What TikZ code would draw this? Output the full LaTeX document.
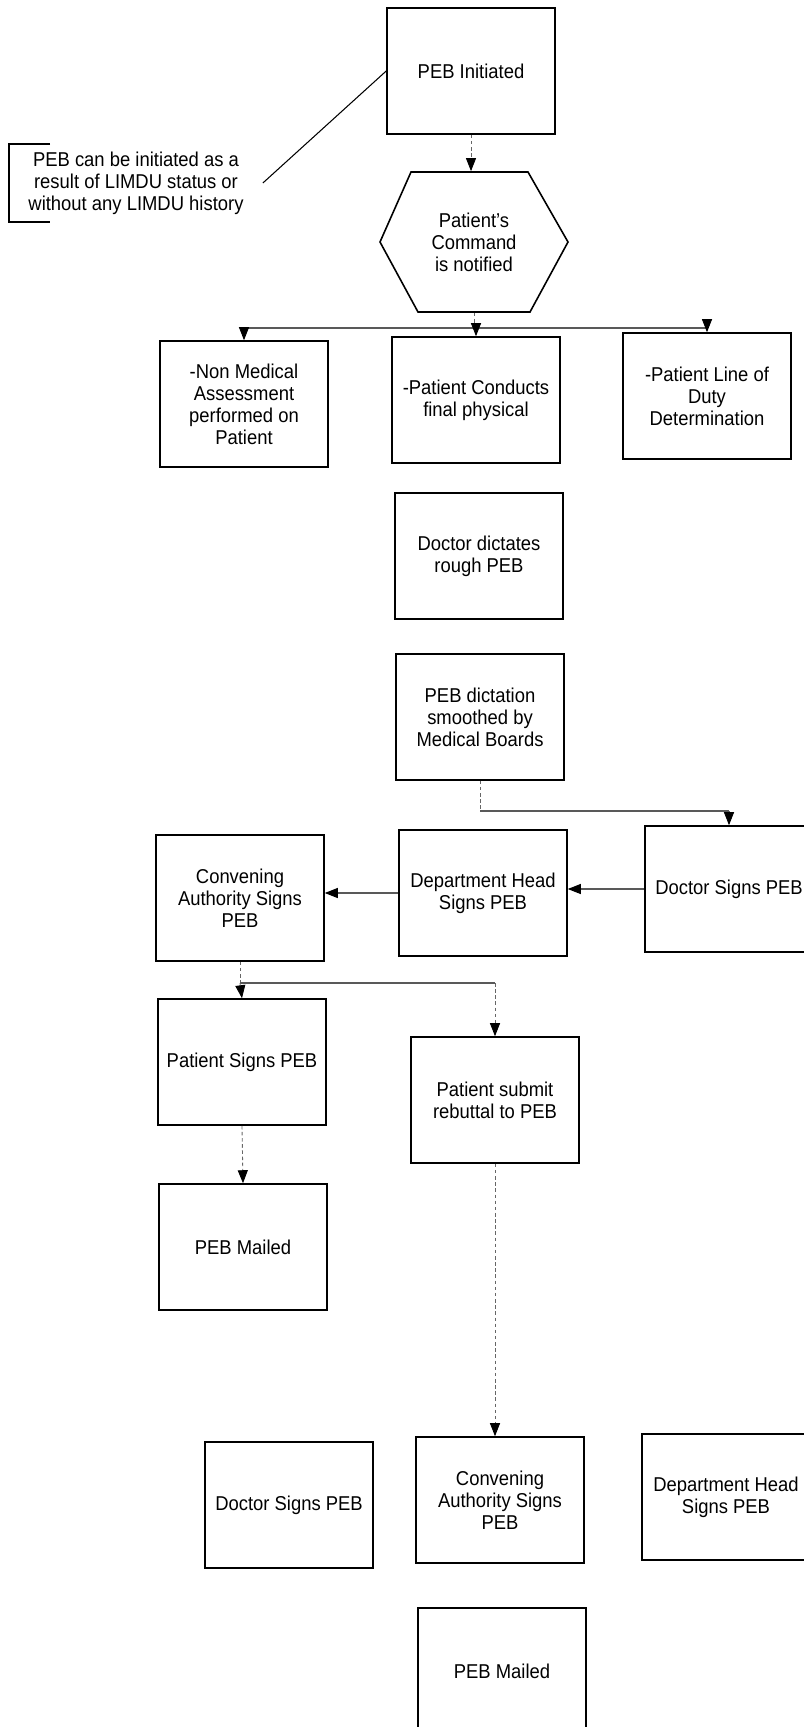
\documentclass[tikz,border=0pt]{standalone}
\usepackage{fontspec}
\setmainfont[FakeStretch=0.92]{Liberation Sans}
\usetikzlibrary{arrows.meta}
\tikzset{
    stepbox/.style={draw, line width=0.9pt, minimum width=3.36cm, minimum height=2.52cm,
        align=center, inner sep=2pt, font=\fontsize{11.4}{12.5}\selectfont},
    hexbox/.style={minimum width=3.76cm, minimum height=2.82cm, inner sep=0pt,
        align=center, font=\fontsize{11.4}{12.5}\selectfont},
    notebox/.style={align=center, inner xsep=0.38cm, minimum height=1.54cm,
        font=\fontsize{11.4}{12.5}\selectfont},
    vflow/.style={draw=black!60, line width=0.5pt, dash pattern=on 2pt off 1.5pt},
    hflow/.style={draw=black!65, line width=0.6pt},
    tip/.style={-{Triangle[length=0.26cm, width=0.2cm, color=black]}},
}
\begin{document}
\begin{tikzpicture}[x=0.02cm, y=-0.02cm]
    \useasboundingbox (0,0) rectangle (804,1727);
    \node[stepbox] (init) at (471,71) {PEB Initiated};
    \node[notebox] (remark) at (136,183) {PEB can be initiated as a\\result of LIMDU status or\\without any LIMDU history};
    \draw[line width=0.9pt] ([xshift=0.82cm]remark.north west) -- (remark.north west)
        -- (remark.south west) -- ([xshift=0.82cm]remark.south west);
    \draw[line width=0.6pt] (remark.east) -- (init.west);
    \node[hexbox] (notify) at (474,242) {Patient's\\Command\\is notified};
    \draw[line width=0.9pt] (380,242) -- (411,172) -- (528,172) -- (568,242) -- (530,312) -- (418,312) -- cycle;
    \node[stepbox] (nonmed) at (244,404) {-Non Medical\\Assessment\\performed on\\Patient};
    \node[stepbox] (physical) at (476,400) {-Patient Conducts\\final physical};
    \node[stepbox] (duty) at (707,396) {-Patient Line of\\Duty\\Determination};
    \node[stepbox] (dictates) at (479,556) {Doctor dictates\\rough PEB};
    \node[stepbox] (smoothed) at (480,717) {PEB dictation\\smoothed by\\Medical Boards};
    \node[stepbox] (docsign) at (729,889) {Doctor Signs PEB};
    \node[stepbox] (depthead) at (483,893) {Department Head\\Signs PEB};
    \node[stepbox] (convene) at (240,898) {Convening\\Authority Signs\\PEB};
    \node[stepbox] (patsign) at (242,1062) {Patient Signs PEB};
    \node[stepbox] (rebuttal) at (495,1100) {Patient submit\\rebuttal to PEB};
    \node[stepbox] (mailed) at (243,1247) {PEB Mailed};
    \node[stepbox] (docsigntwo) at (289,1505) {Doctor Signs PEB};
    \node[stepbox] (convenetwo) at (500,1500) {Convening\\Authority Signs\\PEB};
    \node[stepbox] (deptheadtwo) at (726,1497) {Department Head\\Signs PEB};
    \node[stepbox] (mailedtwo) at (502,1671) {PEB Mailed};

    \coordinate (fork) at (474,328);
    \coordinate (bendA) at (480,811);
    \coordinate (bendB) at (240,983);

    \draw[vflow, tip] (init.south) -- (init.south |- notify.north);
    \draw[vflow] (notify.south) -- (fork);
    \draw[hflow] (fork -| nonmed.north) -- (fork -| duty.north);
    \foreach \b in {nonmed, physical, duty}
        \draw[vflow, tip] (fork -| \b.north) -- (\b.north);
    \draw[vflow] (smoothed.south) -- (bendA);
    \draw[hflow] (bendA) -- (bendA -| docsign.north);
    \draw[vflow, tip] (bendA -| docsign.north) -- (docsign.north);
    \draw[hflow, tip] (docsign.west) -- (docsign.west -| depthead.east);
    \draw[hflow, tip] (depthead.west) -- (depthead.west -| convene.east);
    \draw[vflow] (convene.south) -- (bendB);
    \draw[hflow] (bendB) -- (bendB -| rebuttal.north);
    \draw[vflow, tip] (bendB) -- (patsign.north);
    \draw[vflow, tip] (bendB -| rebuttal.north) -- (rebuttal.north);
    \draw[vflow, tip] (patsign.south) -- (mailed.north);
    \draw[vflow, tip] (rebuttal.south) -- (rebuttal.south |- convenetwo.north);
\end{tikzpicture}
\end{document}
